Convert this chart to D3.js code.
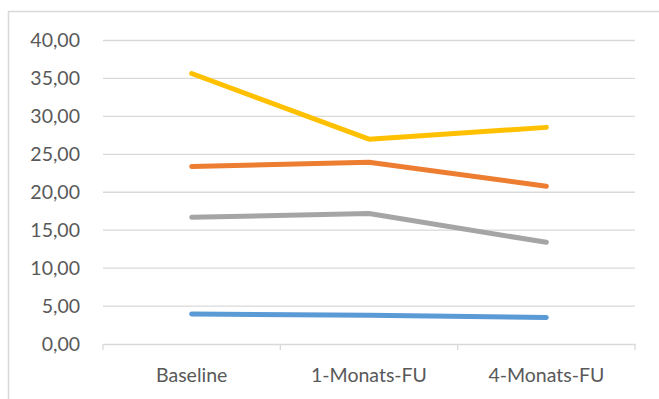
<!DOCTYPE html>
<html><head><meta charset="utf-8">
<script src="https://cdn.jsdelivr.net/npm/d3@7"></script>
<style>html,body{margin:0;padding:0;background:#fff;}</style>
</head><body>
<svg id="c" width="659" height="399"></svg>
<script>
const categories = ["Baseline", "1-Monats-FU", "4-Monats-FU"];
const seriesBlue = [3.95, 3.8, 3.5];
const seriesOrange = [23.4, 23.95, 20.8];
const seriesGray = [16.7, 17.2, 13.4];
const seriesYellow = [35.65, 27.0, 28.55];
const yTicks = [0, 5, 10, 15, 20, 25, 30, 35, 40];

const series = [
  {values: seriesBlue, color: "#5B9BD5"},
  {values: seriesOrange, color: "#ED7D31"},
  {values: seriesGray, color: "#A5A5A5"},
  {values: seriesYellow, color: "#FFC000"}
];

const svg = d3.select("#c");
const font = "Lato, 'Open Sans', sans-serif";
// chart border (partially cropped)
svg.append("rect").attr("x", 8.5).attr("y", 11.5).attr("width", 700).attr("height", 500)
  .attr("fill", "#fff").attr("stroke", "#D9D9D9").attr("stroke-width", 1.5);

const x0 = 103, x1 = 635, yTop = 40.5, yBot = 344;
const x = d3.scaleBand().domain(categories).range([x0, x1]).padding(0);
const y = d3.scaleLinear().domain([0, 40]).range([yBot, yTop]);

// gridlines
svg.append("g").selectAll("line").data(yTicks.filter(d => d > 0)).join("line")
  .attr("x1", x0).attr("x2", x1).attr("y1", d => y(d)).attr("y2", d => y(d))
  .attr("stroke", "#D9D9D9").attr("stroke-width", 1.3);

// y axis labels
const yAxis = d3.axisLeft(y).tickValues(yTicks).tickSize(0).tickPadding(0)
  .tickFormat(d => d3.format(".2f")(d).replace(".", ","));
const gy = svg.append("g").attr("transform", `translate(80,0)`).call(yAxis);
gy.select(".domain").remove();
gy.selectAll("text").attr("font-family", font).attr("font-size", 19.5).attr("fill", "#595959");

// x axis
const xAxis = d3.axisBottom(x).tickSize(0).tickPadding(0);
const gx = svg.append("g").attr("transform", `translate(0,${yBot})`).call(xAxis);
gx.select(".domain").attr("stroke", "#D9D9D9").attr("stroke-width", 1.3);
gx.selectAll("text").attr("font-family", font).attr("font-size", 19.5).attr("fill", "#595959")
  .attr("y", 0).attr("dy", 0).attr("transform", "translate(0,38)");
// tick marks at band boundaries
const bounds = categories.map(c => x(c)).concat([x1]);
svg.append("g").selectAll("line").data(bounds).join("line")
  .attr("x1", d => d).attr("x2", d => d).attr("y1", yBot).attr("y2", yBot + 6)
  .attr("stroke", "#D9D9D9").attr("stroke-width", 1.3);

const line = d3.line().x((d, i) => x(categories[i]) + x.bandwidth() / 2).y(d => y(d));
svg.append("g").selectAll("path").data(series).join("path")
  .attr("d", d => line(d.values)).attr("fill", "none")
  .attr("stroke", d => d.color).attr("stroke-width", 5)
  .attr("stroke-linecap", "round").attr("stroke-linejoin", "round");
</script>
</body></html>
